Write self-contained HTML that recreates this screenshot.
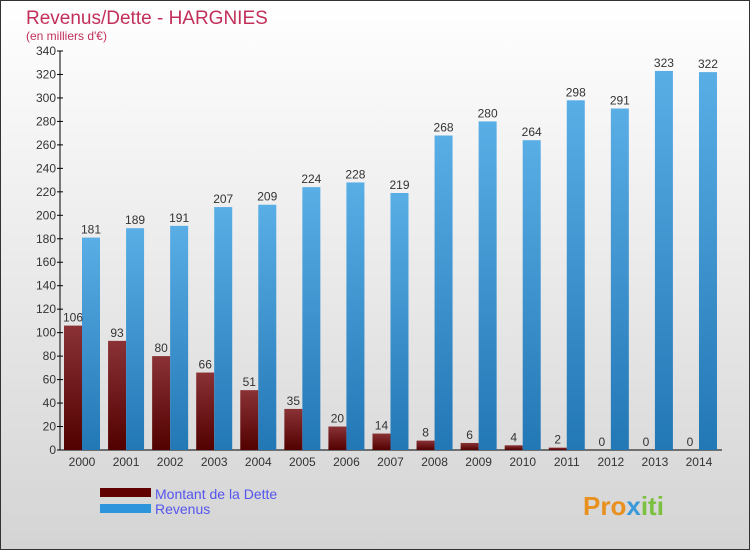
<!DOCTYPE html>
<html><head><meta charset="utf-8"><style>
body{margin:0}
svg text{font-family:"Liberation Sans",sans-serif}
</style></head><body>
<svg id="chart" width="750" height="550" xmlns="http://www.w3.org/2000/svg">
<defs>
<linearGradient id="bg" x1="0" y1="0" x2="0" y2="1"><stop offset="0" stop-color="#ffffff"/><stop offset="1" stop-color="#d4d4d4"/></linearGradient>
<linearGradient id="gd" x1="0" y1="0" x2="0" y2="1"><stop offset="0" stop-color="#8a3236"/><stop offset="1" stop-color="#520000"/></linearGradient>
<linearGradient id="gr" x1="0" y1="0" x2="0" y2="1"><stop offset="0" stop-color="#5aaee6"/><stop offset="1" stop-color="#2277b5"/></linearGradient>
</defs>
<rect x="0.5" y="0.5" width="749" height="549" fill="url(#bg)" stroke="#333"/>
<text x="26" y="24" font-size="19" fill="#c2305a">Revenus/Dette - HARGNIES</text>
<text x="26" y="40" font-size="12" fill="#c2305a">(en milliers d'€)</text>
<g id="axes"></g>
<g id="bars"></g>
<rect x="100" y="488" width="51" height="9" fill="#600000"/>
<rect x="100" y="504" width="51" height="9" fill="#2e94dc"/>
<text x="155" y="499" font-size="14" fill="#5555ee">Montant de la Dette</text>
<text x="155" y="514" font-size="14" fill="#5555ee">Revenus</text>
<text x="583" y="515" font-size="26" font-weight="bold" fill="#e89020">Pro<tspan fill="#3a9ad9">x</tspan><tspan fill="#7cc040">iti</tspan></text>
</svg>
<script>
const years=["2000","2001","2002","2003","2004","2005","2006","2007","2008","2009","2010","2011","2012","2013","2014"];
const debt=[106,93,80,66,51,35,20,14,8,6,4,2,0,0,0];
const revenue=[181,189,191,207,209,224,228,219,268,280,264,298,291,323,322];
const yTicks=[0,20,40,60,80,100,120,140,160,180,200,220,240,260,280,300,320,340];
const NS="http://www.w3.org/2000/svg";
const y=v=>450-v*(399/340);
const xc=i=>82+i*44.07;
function mk(t,a,p){const e=document.createElementNS(NS,t);for(const k in a)e.setAttribute(k,a[k]);p.appendChild(e);return e;}
const ax=document.getElementById('axes'),bg=document.getElementById('bars');
let l=mk('line',{x1:60,y1:51,x2:60,y2:450,stroke:'#000'},ax);


l=mk('line',{x1:60,y1:450,x2:722,y2:450,stroke:'#000'},ax);


yTicks.forEach(v=>{
 const t=mk('line',{x1:57,y1:y(v),x2:63,y2:y(v),stroke:'#000'},ax);
 
 
 const tx=mk('text',{x:56,y:y(v)+4,'font-size':12,'text-anchor':'end',fill:'#333'},ax);
 tx.textContent=v;
 
 
});
years.forEach((yr,i)=>{
 const c=xc(i);
 const tx=mk('text',{x:c,y:466,'font-size':12,'text-anchor':'middle',fill:'#333'},ax);
 tx.textContent=yr;
 
 
 const d=mk('rect',{x:c-18,y:y(debt[i]),width:18,height:450-y(debt[i]),fill:'url(#gd)'},bg);
 
 
 const r=mk('rect',{x:c,y:y(revenue[i]),width:18,height:450-y(revenue[i]),fill:'url(#gr)'},bg);
 
 
 const dl=mk('text',{x:c-9,y:y(debt[i])-4,'font-size':12,'text-anchor':'middle',fill:'#333'},bg);
 dl.textContent=debt[i];
 
 
 const rl=mk('text',{x:c+9,y:y(revenue[i])-4,'font-size':12,'text-anchor':'middle',fill:'#333'},bg);
 rl.textContent=revenue[i];
 
 
});
</script>
</body></html>
